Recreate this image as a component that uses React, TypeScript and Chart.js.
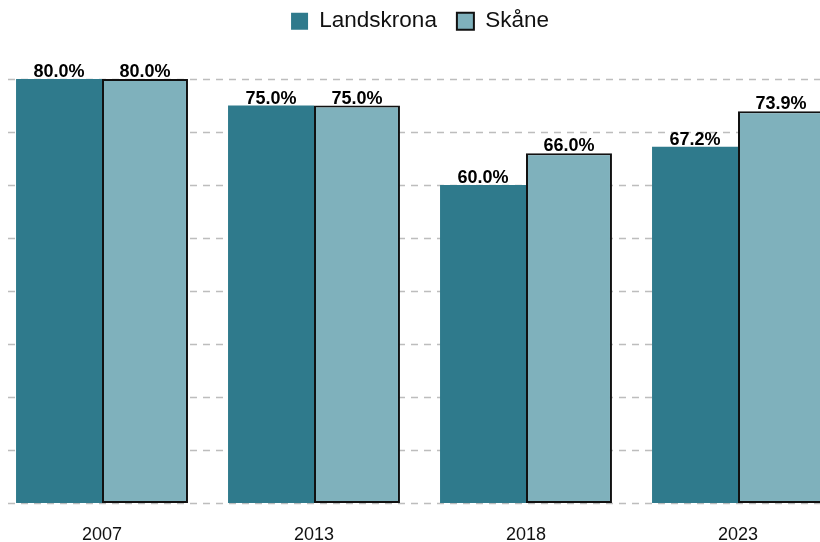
import React, { useEffect, useRef } from "react";
import { Chart, registerables } from "chart.js";

Chart.register(...registerables);

const years = ["2007", "2013", "2018", "2023"];
const landskrona = [80.0, 75.0, 60.0, 67.2];
const skane = [80.0, 75.0, 66.0, 73.9];
const gridValues = [0, 10, 20, 30, 40, 50, 60, 70, 80];

const OFFSET_X = 20; // canvas starts 20px left of the page edge

const gridPlugin = {
  id: "dashedGrid",
  beforeDatasetsDraw(chart: any) {
    const ctx = chart.ctx;
    const y = chart.scales.y;
    ctx.save();
    ctx.strokeStyle = "#bdbdbd";
    ctx.lineWidth = 1.5;
    ctx.setLineDash([7, 6]);
    for (const v of gridValues) {
      const py = Math.round(y.getPixelForValue(v)) + 0.5;
      ctx.beginPath();
      ctx.moveTo(8 + OFFSET_X, py);
      ctx.lineTo(chart.chartArea.right, py);
      ctx.stroke();
    }
    ctx.restore();
  },
};

const labelPlugin = {
  id: "valueLabels",
  afterDatasetsDraw(chart: any) {
    const ctx = chart.ctx;
    ctx.save();
    ctx.font = "bold 18px 'Liberation Sans', Arial, sans-serif";
    ctx.fillStyle = "#000";
    ctx.textAlign = "center";
    ctx.textBaseline = "alphabetic";
    chart.data.datasets.forEach((ds: any, i: number) => {
      const meta = chart.getDatasetMeta(i);
      meta.data.forEach((bar: any, j: number) => {
        const v = ds.data[j] as number;
        ctx.fillText(v.toFixed(1) + "%", bar.x, bar.y - 2);
      });
    });
    ctx.restore();
  },
};

const legendHeightPlugin = {
  id: "legendHeight",
  beforeInit(chart: any) {
    const legend = chart.legend;
    if (!legend) return;
    const origFit = legend.fit;
    legend.fit = function () {
      origFit.call(this);
      this.height = 89;
    };
  },
};

export default function App() {
  const ref = useRef<HTMLCanvasElement | null>(null);

  useEffect(() => {
    if (!ref.current) return;
    const chart = new Chart(ref.current, {
      type: "bar",
      data: {
        labels: years,
        datasets: [
          {
            label: "Landskrona",
            data: landskrona,
            backgroundColor: "#2f7a8c",
            borderWidth: 0,
            categoryPercentage: 0.811,
            barPercentage: 1.0,
          },
          {
            label: "Skåne",
            data: skane,
            backgroundColor: "#7fb1bc",
            borderColor: "#111111",
            borderWidth: 2,
            borderSkipped: false,
            categoryPercentage: 0.811,
            barPercentage: 1.0,
          },
        ],
      },
      options: {
        animation: false,
        responsive: false,
        maintainAspectRatio: false,
        layout: { padding: { left: 16, right: 16, top: -10, bottom: 0 } },
        plugins: {
          legend: {
            position: "top",
            labels: {
              font: { family: "'Liberation Sans', Arial, sans-serif", size: 22.5 },
              color: "#111",
              boxWidth: 17,
              boxHeight: 17,
              padding: 20,
            },
          },
          tooltip: { enabled: false },
        },
        scales: {
          x: {
            grid: { display: false, drawTicks: false },
            border: { display: false },
            ticks: {
              font: { family: "'Liberation Sans', Arial, sans-serif", size: 18 },
              color: "#111",
              padding: 21,
            },
            afterFit(scale: any) {
              scale.height = 39;
            },
          },
          y: {
            display: false,
            min: 0,
            max: 80,
          },
        },
      },
      plugins: [legendHeightPlugin, gridPlugin, labelPlugin],
    });
    return () => chart.destroy();
  }, []);

  return (
    <div
      style={{
        position: "absolute",
        left: 0,
        top: 0,
        width: 820,
        height: 542,
        overflow: "hidden",
        background: "#fff",
      }}
    >
      <canvas
        ref={ref}
        width={880}
        height={542}
        style={{ position: "absolute", left: -OFFSET_X, top: 0, width: 880, height: 542 }}
      />
    </div>
  );
}
